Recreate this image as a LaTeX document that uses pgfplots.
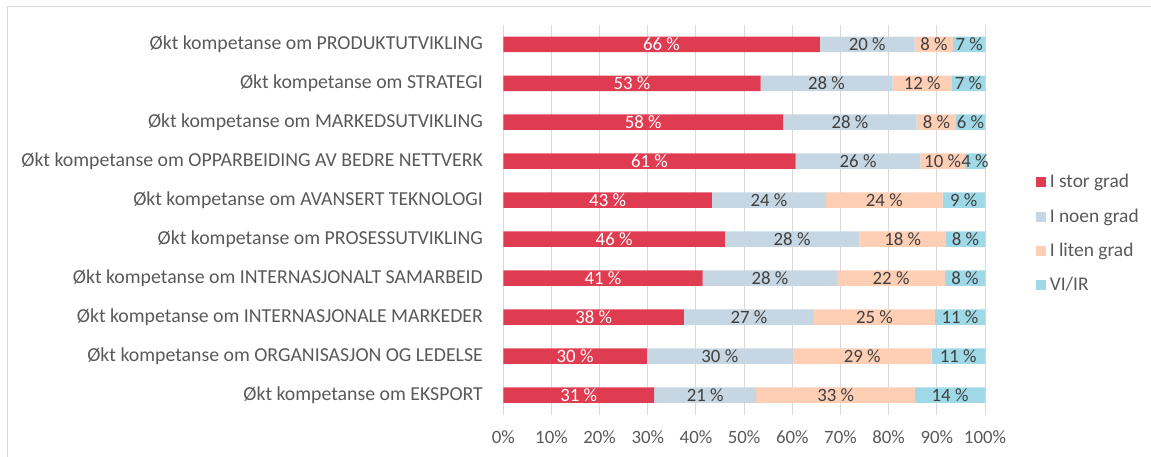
\documentclass[border=0pt]{standalone}
\usepackage{fontspec}
\setmainfont{Carlito}
\usepackage{pgfplots}
\usepackage{pgfplotstable}
\pgfplotsset{compat=1.18}
\definecolor{cRed}{HTML}{E03C51}
\definecolor{cBlue}{HTML}{C6D6E2}
\definecolor{cPeach}{HTML}{FECEB5}
\definecolor{cCyan}{HTML}{9FD9E7}
\definecolor{txtGray}{HTML}{595959}
\definecolor{lblGray}{HTML}{404040}
\definecolor{gridGray}{HTML}{D9D9D9}

\pgfplotstableread[col sep=comma]{
y,r,b,p,c,rl,bl,pl,cl
9,65.7,19.7,8.0,6.6,66,20,8,7
8,53.4,27.4,12.3,6.9,53,28,12,7
7,58.1,27.7,8.2,6.0,58,28,8,6
6,60.7,25.9,9.2,4.2,61,26,10,4
5,43.3,23.7,24.2,8.8,43,24,24,9
4,46.0,27.9,18.0,8.1,46,28,18,8
3,41.4,27.9,22.4,8.3,41,28,22,8
2,37.5,27.0,25.1,10.4,38,27,25,11
1,29.8,30.3,28.8,11.1,30,30,29,11
0,31.3,21.2,33.0,14.5,31,21,33,14
}\data

\pgfplotsset{
  common/.style={
    at={(503.3pt,-414.5pt)}, anchor=south west,
    scale only axis, width=481.7pt, height=389.7pt,
    xmin=0, xmax=100, ymin=-0.5, ymax=9.5,
  }
}

\begin{document}
\fontsize{18.8pt}{22pt}\selectfont
\begin{tikzpicture}
\useasboundingbox (0pt,0pt) rectangle (1151pt,-457pt);
\draw[gridGray, line width=1pt] (7pt,-7pt) rectangle (1200pt,-520pt);
\begin{axis}[
  common,
  xbar stacked, bar width=15.5pt,
  axis line style={draw=none},
  major tick length=0pt,
  xmajorgrids, grid style={gridGray, line width=1pt},
  xtick={0,10,...,100},
  xticklabels={0\%,10\%,20\%,30\%,40\%,50\%,60\%,70\%,80\%,90\%,100\%},
  ytick={0,...,9},
  yticklabels={
    Økt kompetanse om EKSPORT,
    Økt kompetanse om ORGANISASJON OG LEDELSE,
    Økt kompetanse om INTERNASJONALE MARKEDER,
    Økt kompetanse om INTERNASJONALT SAMARBEID,
    Økt kompetanse om PROSESSUTVIKLING,
    Økt kompetanse om AVANSERT TEKNOLOGI,
    Økt kompetanse om OPPARBEIDING AV BEDRE NETTVERK,
    Økt kompetanse om MARKEDSUTVIKLING,
    Økt kompetanse om STRATEGI,
    Økt kompetanse om PRODUKTUTVIKLING},
  tick label style={text=txtGray},
  yticklabel style={xshift=-14pt, font=\fontsize{19.8pt}{22pt}\selectfont},
  xticklabel style={yshift=-10pt},
  legend style={draw=none, fill=none, at={(1.105,0.4636)}, anchor=west,
    text=txtGray, row sep=14pt, inner sep=0pt,
    nodes={inner sep=2pt}, font=\fontsize{19.4pt}{22pt}\selectfont},
  legend cell align=left,
  legend image code/.code={\fill[#1] (0pt,-5pt) rectangle (10pt,5pt);},
]
\addplot[fill=cRed, draw=none] table[x=r, y=y]{\data};
\addplot[fill=cBlue, draw=none] table[x=b, y=y]{\data};
\addplot[fill=cPeach, draw=none] table[x=p, y=y]{\data};
\addplot[fill=cCyan, draw=none] table[x=c, y=y]{\data};
\legend{\hspace{2pt}I stor grad, \hspace{2pt}I noen grad, \hspace{2pt}I liten grad, \hspace{2pt}VI/IR}
\end{axis}
\begin{axis}[
  common, hide axis,
  point meta=explicit symbolic,
  nodes near coords={\pgfplotspointmeta~\%},
  every node near coord/.style={anchor=center, inner sep=0pt},
]
\addplot[draw=none, mark=none, nodes near coords style={text=white}]
  table[x expr=\thisrow{r}/2, y=y, meta=rl]{\data};
\addplot[draw=none, mark=none, nodes near coords style={text=lblGray}]
  table[x expr=\thisrow{r}+\thisrow{b}/2, y=y, meta=bl]{\data};
\addplot[draw=none, mark=none, nodes near coords style={text=lblGray}]
  table[x expr=\thisrow{r}+\thisrow{b}+\thisrow{p}/2, y=y, meta=pl]{\data};
\addplot[draw=none, mark=none, nodes near coords style={text=lblGray}]
  table[x expr=\thisrow{r}+\thisrow{b}+\thisrow{p}+\thisrow{c}/2, y=y, meta=cl]{\data};
\end{axis}
\end{tikzpicture}
\end{document}
